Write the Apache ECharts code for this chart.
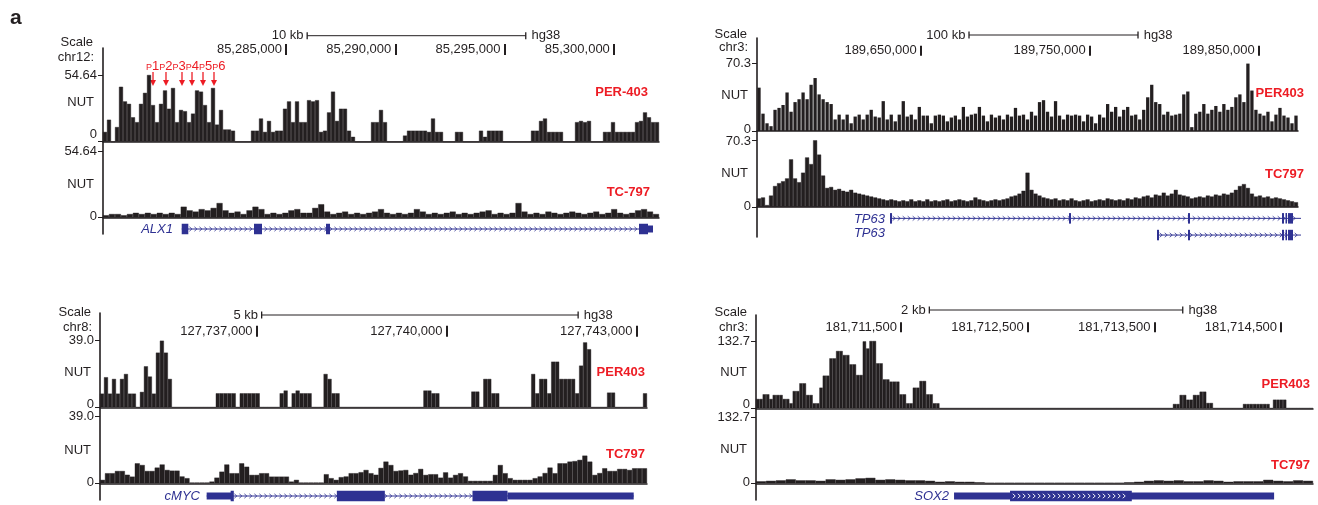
<!DOCTYPE html>
<html>
<head>
<meta charset="utf-8">
<title>NUT ChIP-seq tracks</title>
<script src="https://cdn.jsdelivr.net/npm/echarts@6/dist/echarts.min.js"></script>
<style>
html, body { margin: 0; padding: 0; background: #fff; }
#main { width: 1318px; height: 505px; }
</style>
</head>
<body>
<div id="main"></div>
<script>
// ---------- data (binned NUT signal) ----------
// ALX1 locus, chr12
var aPer = [8,18,0,12,45,33,31,20,16,31,
  40,56,30,16,31,42,27,44,16,26,
  25,16,23,42,41,30,16,44,14,26,
  10,10,9,0,0,0,0,9,9,19,
  8,17,8,9,9,27,33,16,33,16,
  16,34,33,34,8,9,24,41,17,27,
  27,9,4,0,0,0,0,16,16,26,
  16,0,0,0,0,5,9,9,9,9,
  9,8,19,8,8,0,0,0,8,8,
  0,0,0,0,9,4,9,9,9,9,
  0,0,0,0,0,0,0,9,9,17,
  19,8,8,8,8,0,0,0,16,17,
  16,17,0,0,0,8,8,16,8,8,
  8,8,8,16,17,24,20,16,16];
var aTc = [2,3,3,2,3,4,3,4,3,4,
  3,4,3,9,6,5,7,6,8,12,
  6,4,5,3,6,9,7,3,4,3,
  4,6,7,4,4,8,11,5,3,4,
  5,3,4,3,4,5,7,4,3,4,
  3,4,7,5,3,4,3,4,5,3,
  4,3,4,5,6,3,4,3,4,12,
  5,3,4,3,5,4,3,4,5,4,
  3,4,5,3,4,7,4,3,4,6,
  7,5,3];
// TP63 locus, chr3
var bPer = [45,18,8,5,22,24,27,40,20,30,
  33,40,33,48,55,38,33,30,28,12,
  17,12,17,8,15,17,12,17,22,15,
  14,31,12,17,10,17,31,15,17,12,
  25,16,16,8,16,17,16,10,14,16,
  12,25,15,17,18,25,16,10,17,14,
  16,12,17,15,24,16,17,12,20,16,
  30,32,20,15,31,16,12,17,16,17,
  16,10,17,15,8,17,14,28,20,25,
  15,22,25,16,17,12,22,35,48,30,
  28,17,20,16,17,18,38,41,4,18,
  20,28,18,22,26,20,28,22,25,35,
  38,30,70,42,22,18,16,20,10,17,
  24,16,14,8,16];
var bTc = [9,10,2,12,22,25,27,30,50,30,
  26,36,52,45,70,55,33,20,21,18,
  19,17,16,18,15,14,13,12,11,10,
  9,8,7,8,7,6,7,6,8,6,
  7,6,8,6,7,6,7,8,6,7,
  8,7,6,7,10,8,7,6,7,8,
  7,8,9,11,12,14,17,36,18,14,
  12,10,9,8,9,7,8,7,9,7,
  6,7,8,6,7,8,7,9,8,7,
  8,7,9,8,10,9,11,12,10,13,
  12,15,12,14,18,13,12,11,9,10,
  11,10,12,11,13,12,14,13,15,18,
  22,24,20,14,11,12,10,11,9,10,
  9,8,7,6,5];
// MYC locus, chr8
var cPer = [8,17.6,8,16.6,8,16.6,19.5,8,8,0,
  9,24,18,8,32,39,32,16.6,0,0,
  0,0,0,0,0,0,0,0,0,8.2,
  8.2,8.2,8.2,8.2,0,8.2,8.2,8.2,8.2,8.2,
  0,0,0,0,0,8.2,9.8,0,8.2,9.8,
  8.2,8.2,8.2,0,0,0,19.5,16.6,8.2,8.2,
  0,0,0,0,0,0,0,0,0,0,
  0,0,0,0,0,0,0,0,0,0,
  0,9.8,9.8,8.2,8.2,0,0,0,0,0,
  0,0,0,9.2,9.2,0,16.6,16.6,8.2,8.2,
  0,0,0,0,0,0,0,0,19.5,8.2,
  16.6,16.6,8.2,26.7,26.7,16.6,16.6,16.6,16.6,8.2,
  24.4,38,34,0,0,0,0,8.6,8.6,0,
  0,0,0,0,0,0,8.2];
var cTc = [2,5.9,5.9,7.2,7.2,5,3.9,11.7,10.7,7.2,
  7.2,9.2,11,7.8,7.4,7.4,4,3,0.4,0.4,
  0.4,0.4,1,3.3,6.8,11,5.9,5.9,11.7,9.7,
  4.9,4.9,5.9,5.9,3.9,3.9,3.9,3.9,1,2,
  0.4,0.4,0.4,0.4,0.4,5.3,3,2,3.6,4,
  5.9,5.9,6.5,7.8,5.9,5,9,12.7,10.7,7.2,
  7.5,7.8,5,6,8.4,4.9,5.3,5.3,3.3,6.4,
  3.3,4.9,5.9,4,1.4,1.4,1.4,1.4,1.4,4.9,
  10.7,5.9,3,2,2,2,2,3,4,6,
  9.2,5.9,11.7,11.7,12.7,13,13.7,16.2,12.7,4.9,
  6,8.8,7.2,7.2,8.4,8.4,7.8,8.8,8.8,8.8];
// SOX2 locus, chr3
var dPer = [18.4,18.4,27.6,27.6,18.4,26.3,26.3,26.3,18.4,18.4,
  9.9,34,34,49.3,49.3,26.3,26.3,9.9,9.9,40.7,
  64.4,64.4,98.5,98.5,113,113,105,105,86.7,86.7,
  65.7,65.7,132,118,132.7,132.7,88.7,88.7,57,57,
  52.6,52.6,52.6,27.6,27.6,9.9,9.9,40.7,40.7,53.9,
  53.9,27.6,27.6,9.9,9.9,0,0,0,0,0,
  0,0,0,0,0,0,0,0,0,0,
  0,0,0,0,0,0,0,0,0,0,
  0,0,0,0,0,0,0,0,0,0,
  0,0,0,0,0,0,0,0,0,0,
  0,0,0,0,0,0,0,0,0,0,
  0,0,0,0,0,0,0,0,0,0,
  0,0,0,0,0,8.5,8.5,26.3,26.3,17,
  17,26.3,26.3,32.8,32.8,10.5,10.5,0,0,0,
  0,0,0,0,0,0,8.5,8.5,8.5,8.5,
  8.5,8.5,8.5,8.5,0,17,17,17,17,0,
  0,0,0,0,0,0,0];
var dTc = [4,5,6,8,6,6,5,8,7,8,
  10,11,7,8,7,6,6,5,3,4,
  3,3,2,1,1,1,1,1,1,1,
  1,1,1,1,1,1,1,2,3,5,
  6,5,6,4,4,6,5,3,4,4,
  4,7,5,4,6,5];

// genomic window of each panel and its ruler ticks
var aRange = [85276629, 85302066];
var bRange = [189553136, 189873246];
var cRange = [127734526, 127743168];
var dRange = [181710356, 181714752];
var aTicks = [85285000, 85290000, 85295000, 85300000];
var bTicks = [189650000, 189750000, 189850000];
var cTicks = [127737000, 127740000, 127743000];
var dTicks = [181711500, 181712500, 181713500, 181714500];
var aScale = [85285970, 85295970];
var bScale = [189678580, 189778580];
var cScale = [127737080, 127742080];
var dScale = [181711724, 181713724];

// gene parts: [start, end, row, kind]  kind 0 = intron, 1 = UTR, 2 = exon, 3 = exon with strand marks
var alx1Parts = [
  [85280230, 85301792, 0, 0],
  [85280230, 85280532, 0, 2],
  [85283537, 85283903, 0, 2],
  [85286831, 85287014, 0, 2],
  [85301151, 85301563, 0, 2],
  [85301563, 85301792, 0, 1]
];
var tp63Parts = [
  [189631832, 189875020, 0, 0],
  [189631832, 189633016, 0, 2],
  [189737746, 189738930, 0, 2],
  [189808158, 189809342, 0, 2],
  [189863778, 189864961, 0, 2],
  [189865849, 189866737, 0, 2],
  [189867328, 189870287, 0, 2],
  [189789816, 189875020, 1, 0],
  [189789816, 189791000, 1, 2],
  [189808158, 189809342, 1, 2],
  [189863778, 189864961, 1, 2],
  [189865849, 189866737, 1, 2],
  [189867328, 189870287, 1, 2]
];
var mycParts = [
  [127736211, 127742958, 0, 0],
  [127736211, 127736606, 0, 1],
  [127736590, 127736640, 0, 2],
  [127738268, 127739026, 0, 2],
  [127740411, 127740964, 0, 2],
  [127740964, 127742958, 0, 1]
];
var sox2Parts = [
  [181711919, 181714445, 0, 1],
  [181712361, 181713322, 0, 3]
];
// peak positions marked P1..P6 on ALX1
var pPeaks = [85278917, 85279511, 85280243, 85280701, 85281204, 85281707];
var pNames = ['1', '2', '3', '4', '5', '6'];

// ---------- layout ----------
var ink = '#231f20', red = '#ed1c24', blue = '#2e3192';
var font = 'Liberation Sans, Arial, Helvetica, sans-serif';

var panels = [
  { left: 103, width: 556, range: aRange, ticks: aTicks, scale: aScale, scaleText: '10 kb',
    lineTop: 48, lineH: 186, scaleY: 35.7, coordBottom: 55, tickLen: 11,
    chrom: 'chr12:', headX: 94, scaleTextY: 42, chromY: 57,
    tracks: [
      { top: 75, height: 66.7, data: aPer, max: 54.64, maxLabel: '54.64', name: 'PER-403', lx: 648, ly: 92, ny: 102, zero: 15, top0: 0, gap: '0%' },
      { top: 151, height: 66.7, data: aTc, max: 54.64, maxLabel: '54.64', name: 'TC-797', lx: 650, ly: 192, ny: 184, zero: 2, top0: 0, gap: '0%' }
    ],
    gene: { top: 222, rowH: 14, rows: 1, parts: alx1Parts, names: [['ALX1', 173, 229]] },
    peaks: true },
  { left: 757, width: 541, range: bRange, ticks: bTicks, scale: bScale, scaleText: '100 kb',
    lineTop: 38, lineH: 199, scaleY: 35, coordBottom: 55.7, tickLen: 10,
    chrom: 'chr3:', headX: 748, scaleTextY: 34, chromY: 47,
    tracks: [
      { top: 63.3, height: 67.7, data: bPer, max: 70.3, maxLabel: '70.3', name: 'PER403', lx: 1304, ly: 93, ny: 95.7, zero: 3, top0: 0, gap: '18%' },
      { top: 140, height: 67, data: bTc, max: 70.3, maxLabel: '70.3', name: 'TC797', lx: 1304, ly: 174, ny: 173, zero: 2, top0: 3, gap: '0%' }
    ],
    gene: { top: 210, rowH: 16.7, rows: 2, parts: tp63Parts, names: [['TP63', 885, 219], ['TP63', 885, 233.5]] } },
  { left: 100, width: 547, range: cRange, ticks: cTicks, scale: cScale, scaleText: '5 kb',
    lineTop: 313, lineH: 187, scaleY: 315, coordBottom: 336.7, tickLen: 11,
    chrom: 'chr8:', headX: 92, scaleTextY: 312, chromY: 327,
    tracks: [
      { top: 340.7, height: 66.6, data: cPer, max: 39.0, maxLabel: '39.0', name: 'PER403', lx: 645, ly: 372, ny: 372, zero: 5, top0: 0, gap: '0%' },
      { top: 416.7, height: 66.6, data: cTc, max: 39.0, maxLabel: '39.0', name: 'TC797', lx: 645, ly: 454, ny: 450.7, zero: 2, top0: 0, gap: '0%' }
    ],
    gene: { top: 489, rowH: 14, rows: 1, parts: mycParts, names: [['cMYC', 200, 496]] } },
  { left: 756, width: 557, range: dRange, ticks: dTicks, scale: dScale, scaleText: '2 kb',
    lineTop: 315, lineH: 185, scaleY: 310, coordBottom: 332.3, tickLen: 10,
    chrom: 'chr3:', headX: 748, scaleTextY: 312, chromY: 327,
    tracks: [
      { top: 341, height: 67.3, data: dPer, max: 132.7, maxLabel: '132.7', name: 'PER403', lx: 1310, ly: 384, ny: 372, zero: 7, top0: 0, gap: '0%' },
      { top: 417.7, height: 65.6, data: dTc, max: 132.7, maxLabel: '132.7', name: 'TC797', lx: 1310, ly: 465, ny: 449, zero: 2, top0: 0, gap: '0%' }
    ],
    gene: { top: 489, rowH: 14, rows: 1, parts: sox2Parts, names: [['SOX2', 949, 496]] } }
];

var option = {
  animation: false,
  backgroundColor: '#fff',
  textStyle: { fontFamily: font },
  grid: [], xAxis: [], yAxis: [], series: [], graphic: []
};

function commas(v) {
  return String(Math.round(v)).replace(/\B(?=(\d{3})+(?!\d))/g, ',');
}

// one grid with its own x and y axis; returns the shared index
function addGrid(g, xa, ya) {
  option.grid.push(g);
  var i = option.grid.length - 1;
  xa.gridIndex = i;
  ya.gridIndex = i;
  option.xAxis.push(xa);
  option.yAxis.push(ya);
  return i;
}

function label(x, y, s, opts) {
  opts = opts || {};
  option.graphic.push({
    type: 'text', x: x, y: y, z: 10, silent: true,
    style: {
      text: s, fill: opts.color || ink,
      font: (opts.style || '') + ' ' + (opts.weight || 'normal') + ' ' + (opts.size || 13) + 'px ' + font,
      align: opts.align || 'right', textAlign: opts.align || 'right',
      verticalAlign: 'middle', textVerticalAlign: 'middle'
    }
  });
}

function hidden(min, max) {
  return { type: 'value', min: min, max: max, show: false };
}

// gene model: intron line with chevrons, UTR / exon boxes
function renderGene(params, api) {
  var s = api.value(0), e = api.value(1), row = api.value(2), kind = api.value(3);
  var p0 = api.coord([s, row + 0.5]);
  var p1 = api.coord([e, row + 0.5]);
  var y = p0[1];
  var kids = [], x;
  if (kind === 0) {
    kids.push({ type: 'line', shape: { x1: p0[0], y1: y, x2: p1[0], y2: y }, style: { stroke: blue, lineWidth: 1 } });
    for (x = p0[0] + 4; x < p1[0] - 3; x += 5) {
      kids.push({ type: 'polyline', shape: { points: [[x - 1.3, y - 2.2], [x + 1.2, y], [x - 1.3, y + 2.2]] },
        style: { stroke: blue, fill: null, lineWidth: 0.8 } });
    }
    return { type: 'group', children: kids };
  }
  var h = kind === 1 ? 7 : 10.5;
  kids.push({ type: 'rect', shape: { x: p0[0], y: y - h / 2, width: Math.max(p1[0] - p0[0], 1.5), height: h },
    style: { fill: blue } });
  if (kind === 3) {
    for (x = p0[0] + 4; x < p1[0] - 3; x += 5) {
      kids.push({ type: 'polyline', shape: { points: [[x - 1.3, y - 2.2], [x + 1.2, y], [x - 1.3, y + 2.2]] },
        style: { stroke: '#fff', fill: null, lineWidth: 0.9 } });
    }
  }
  return { type: 'group', children: kids };
}

// red arrows; the P1..P6 caption runs as one line above them
function renderPeak(params, api) {
  var pt = api.coord([api.value(0), 0]);
  var x = pt[0], yb = pt[1];
  var kids = [
    { type: 'line', shape: { x1: x, y1: yb - 14, x2: x, y2: yb - 4 }, style: { stroke: red, lineWidth: 1.3 } },
    { type: 'polygon', shape: { points: [[x - 3, yb - 6], [x + 3, yb - 6], [x, yb]] }, style: { fill: red } }
  ];
  if (params.dataIndex === 0) {
    var txt = pNames.map(function (n) { return '{p|P}{n|' + n + '}'; }).join('');
    kids.push({ type: 'text', x: x - 7, y: yb - 20,
      style: { text: txt, align: 'left', verticalAlign: 'middle', textAlign: 'left', textVerticalAlign: 'middle',
        rich: { p: { fontSize: 9, fill: red, fontFamily: font, padding: [3, 0, 0, 0] },
                n: { fontSize: 13, fill: red, fontFamily: font } } } });
  }
  return { type: 'group', children: kids };
}

panels.forEach(function (p) {
  var W = p.width, gi;

  // long vertical axis line of the panel
  addGrid({ left: p.left, top: p.lineTop, width: 1, height: p.lineH }, hidden(0, 1), {
    type: 'value', min: 0, max: 1,
    axisLine: { show: true, lineStyle: { color: ink, width: 1.6 } },
    axisTick: { show: false }, axisLabel: { show: false }, splitLine: { show: false }
  });

  // scale bar
  gi = addGrid({ left: p.left, width: W, top: p.scaleY - 5, height: 10 }, hidden(p.range[0], p.range[1]), hidden(0, 1));
  option.series.push({
    type: 'line', xAxisIndex: gi, yAxisIndex: gi, silent: true,
    symbol: 'rect', symbolSize: [1.3, 7],
    lineStyle: { color: ink, width: 1 }, itemStyle: { color: ink },
    label: { color: ink, fontSize: 13, fontFamily: font },
    data: [
      { value: [p.scale[0], 0.5], label: { show: true, position: 'left', distance: 3, formatter: p.scaleText } },
      { value: [p.scale[1], 0.5], label: { show: true, position: 'right', distance: 5, formatter: 'hg38' } }
    ]
  });

  // chromosome ruler
  addGrid({ left: p.left, width: W, top: p.coordBottom - p.tickLen, height: p.tickLen }, {
    type: 'value', min: p.range[0], max: p.range[1], position: 'bottom',
    axisLine: { show: false },
    axisTick: { show: true, inside: true, length: p.tickLen, customValues: p.ticks, lineStyle: { color: ink, width: 2 } },
    axisLabel: { show: true, inside: true, customValues: p.ticks, margin: p.tickLen / 2, align: 'right',
      verticalAlign: 'middle', padding: [0, 4, 0, 0], color: ink, fontSize: 13, fontFamily: font,
      formatter: function (v) { return commas(v); } },
    splitLine: { show: false }
  }, hidden(0, 1));

  label(p.headX - 1, p.scaleTextY, 'Scale');
  label(p.headX, p.chromY, p.chrom);

  // signal tracks
  p.tracks.forEach(function (t) {
    var cats = t.data.map(function (d, i) { return String(i); });
    gi = addGrid({ left: p.left, width: W, top: t.top, height: t.height }, {
      type: 'category', data: cats,
      axisLine: { show: true, lineStyle: { color: ink, width: 1.5 } },
      axisTick: { show: false }, axisLabel: { show: false }, splitLine: { show: false }
    }, {
      type: 'value', min: 0, max: t.max,
      axisLine: { show: false },
      axisTick: { show: true, length: 5, customValues: [0, t.max], lineStyle: { color: ink, width: 1 } },
      axisLabel: { show: true, customValues: [0, t.max], margin: 6,
        formatter: function (v) { return v === 0 ? '{z|0}' : '{t|' + t.maxLabel + '}'; },
        rich: {
          z: { fontSize: 13, color: ink, fontFamily: font, padding: [0, 0, t.zero, 0] },
          t: { fontSize: 13, color: ink, fontFamily: font, padding: [t.top0, 0, 0, 0] }
        } },
      splitLine: { show: false }
    });
    option.series.push({
      type: 'bar', xAxisIndex: gi, yAxisIndex: gi, silent: true,
      barCategoryGap: t.gap,
      itemStyle: { color: ink, borderColor: ink, borderWidth: t.gap === '0%' ? 0.4 : 0 },
      data: t.data.map(function (v) { return Math.min(v, t.max); })
    });
    label(p.left - 9, t.ny, 'NUT');
    label(t.lx, t.ly, t.name, { color: red, weight: 'bold' });
  });

  // gene model
  gi = addGrid({ left: p.left, width: W, top: p.gene.top, height: p.gene.rows * p.gene.rowH },
    hidden(p.range[0], p.range[1]),
    { type: 'value', min: 0, max: p.gene.rows, inverse: true, show: false });
  option.series.push({
    type: 'custom', xAxisIndex: gi, yAxisIndex: gi, silent: true, clip: false,
    encode: { x: [0, 1], y: 2 },
    renderItem: renderGene,
    data: p.gene.parts
  });
  p.gene.names.forEach(function (n) {
    label(n[1], n[2], n[0], { color: blue, style: 'italic' });
  });

  if (p.peaks) {
    gi = addGrid({ left: p.left, width: W, top: 60, height: 26 }, hidden(p.range[0], p.range[1]), hidden(0, 1));
    option.series.push({
      type: 'custom', xAxisIndex: gi, yAxisIndex: gi, silent: true, clip: false,
      encode: { x: 0 },
      renderItem: renderPeak,
      data: pPeaks.map(function (v) { return [v]; })
    });
  }
});

label(10, 18, 'a', { align: 'left', weight: 'bold', size: 21 });

var myChart = echarts.init(document.getElementById('main'));
myChart.setOption(option);
</script>
</body>
</html>
